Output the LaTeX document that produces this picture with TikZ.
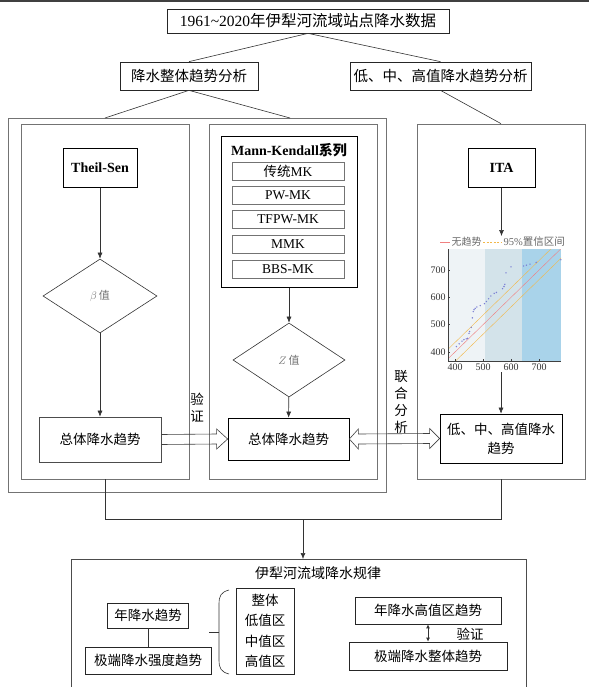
\documentclass[tikz,border=0pt]{standalone}
\usepackage{fontspec}
\setmainfont{Liberation Serif}
\newfontfamily\zh{Noto Sans CJK SC}
\usetikzlibrary{arrows.meta,shapes.geometric,calc}
\definecolor{bandA}{HTML}{EEF3F6}
\definecolor{bandB}{HTML}{D3E3EA}
\definecolor{bandC}{HTML}{A9D3EA}
\definecolor{dotc}{HTML}{7A7ED4}
\definecolor{legred}{HTML}{F08080}
\definecolor{legor}{HTML}{F2B84B}
\begin{document}
\begin{tikzpicture}[x=1pt,y=-1pt,
  box/.style={draw=black!85,line width=0.7pt,inner sep=0pt,align=center,font=\fontsize{13.5}{16}\selectfont},
  tbox/.style={box,font=\fontsize{14.5}{17}\selectfont},
  panel/.style={draw=black!55,line width=0.7pt,inner sep=0pt},
  subbox/.style={draw=black!55,line width=0.5pt,inner sep=0pt,minimum width=112pt,minimum height=18pt,font=\fontsize{13.5}{16}\selectfont},
  conn/.style={draw=black!80,line width=0.6pt},
  arr/.style={conn,-{Latex[length=6pt,width=5pt]}},
  hollow/.style={draw=black!75,line width=0.6pt,line join=miter},
  lbl/.style={inner sep=0pt,align=center,font=\zh\fontsize{13.5}{17}\selectfont},
  dia/.style={diamond,draw=black!80,line width=0.6pt,inner sep=0pt,minimum width=114pt,minimum height=74pt,font=\fontsize{11}{13}\selectfont,text=black!55},
  tick/.style={inner sep=1.5pt,font=\fontsize{10}{12}\selectfont,text=black!80},
]
\useasboundingbox (0,0) rectangle (589,687);
\draw[line width=2pt,black!75] (0,1) -- (589,1);

% top level
\node[tbox,minimum width=282pt,minimum height=24pt,font=\fontsize{15.5}{18}\selectfont] (top) at (308,21) {1961\textasciitilde2020{\zh 年伊犁河流域站点降水数据}};
\node[tbox,minimum width=138pt,minimum height=28pt] (l2) at (189,76) {\zh 降水整体趋势分析};
\node[tbox,minimum width=181pt,minimum height=28pt] (r2) at (440.5,76) {\zh 低、中、高值降水趋势分析};

% panels
\node[panel,minimum width=378pt,minimum height=374pt] (outer) at (197,305) {};
\node[panel,minimum width=168pt,minimum height=355pt] (tsp) at (105,301.5) {};
\node[panel,minimum width=168pt,minimum height=355pt] (mkp) at (293,301.5) {};
\node[panel,minimum width=168pt,minimum height=355pt] (itap) at (501,301.5) {};

\coordinate (oL) at (105,118);
\coordinate (oR) at (290,118);
\draw[conn] (top.south) -- (l2.north);
\draw[conn] (top.south) -- (r2.north);
\draw[conn] (oL) -- (l2.south) -- (oR);
\draw[conn] (r2.south) -- (itap.north);

% Theil-Sen column
\node[box,draw=black,line width=1pt,minimum width=74pt,minimum height=38pt,font=\bfseries\fontsize{14}{16}\selectfont] (ts) at (100,168) {Theil-Sen};
\node[dia] (beta) at (100,296) {$\beta$\,{\zh 值}};
\node[box,draw=black!70,minimum width=122pt,minimum height=45pt] (tl) at (100,439.5) {\zh 总体降水趋势};
\draw[arr] (ts) -- (beta);
\draw[arr] (beta) -- (tl);

% Mann-Kendall column
\node[box,draw=black,line width=1pt,minimum width=136pt,minimum height=150pt] (mk) at (289,212) {};
\node[lbl,font=\bfseries\fontsize{14}{16}\selectfont] (mkt) at (289,150) {Mann-Kendall{\zh 系列}};
\node[subbox] (mk1) at (288,171) {{\zh 传统}MK};
\node[subbox] (mk2) at (288,195.5) {PW-MK};
\node[subbox] (mk3) at (288,219.5) {TFPW-MK};
\node[subbox] (mk4) at (288,244) {MMK};
\node[subbox] (mk5) at (288,269) {BBS-MK};
\node[dia,minimum width=112pt] (zv) at (289,360) {$Z$\,{\zh 值}};
\node[box,draw=black,minimum width=121pt,minimum height=42pt] (tm) at (288.5,439) {\zh 总体降水趋势};
\draw[arr] (mk) -- (zv);
\draw[arr] (zv) -- (tm);

% ITA column
\node[box,draw=black,line width=1pt,minimum width=67pt,minimum height=38pt,font=\bfseries\fontsize{14}{16}\selectfont] (ita) at (501.5,168) {ITA};
\coordinate (legtop) at (501.5,236);
\draw[arr] (ita) -- (legtop);

\draw[legred,line width=0.6pt] (440,242) -- (450,242);
\node[tick,anchor=west,inner sep=0.5pt,text=black!60] (lg1) at (451,242) {\zh 无趋势};
\draw[legor,line width=0.6pt,dash pattern=on 2pt off 1.5pt] (483,242) -- (502,242);
\node[tick,anchor=west,inner sep=0.5pt,text=black!60,font=\fontsize{10.5}{12}\selectfont] (lg2) at (503,242) {95\%{\zh 置信区间}};

\begin{scope}[shift={(343,461.2)},x=0.28pt,y=0.273pt]
  \fill[bandA] (375,367) rectangle (507,777);
  \fill[bandB] (507,367) rectangle (639,777);
  \fill[bandC] (639,367) rectangle (779,777);
  \begin{scope}
    \clip (375,367) rectangle (779,777);
    \draw[legred,line width=0.4pt] (360,360) -- (800,800);
    \draw[legor,line width=0.4pt] (330,365) -- (800,835);
    \draw[legor,line width=0.4pt] (365,330) -- (835,800);
  \end{scope}
  \foreach \px/\py in {405/420,415/430,425/440,432/445,440/448,445/450,450/468,452/475,458/490,462/525,465/548,468/555,472/560,478/565,490/570,505/577,512/585,520/595,528/605,540/615,548/618,570/632,575/640,578/648,582/690,600/712,645/715,655/718,668/722,690/728,778/738}
    \fill[dotc] (\px,\py) circle[radius=0.8pt];
  \draw[black!75,line width=0.6pt] (375,777) -- (375,367) -- (779,367);
  \foreach \v in {400,500,600,700} {
    \draw[black!75,line width=0.5pt] (375,\v) -- ++(7,0);
    \draw[black!75,line width=0.5pt] (\v,367) -- ++(0,7);
    \node[tick,anchor=east] (yl\v) at (373,\v) {\v};
    \node[tick,anchor=north] (xl\v) at (\v,362) {\v};
  }
\end{scope}

\node[box,draw=black,minimum width=122pt,minimum height=49pt,font=\zh\fontsize{13.5}{19}\selectfont] (itb) at (501,438.5) {低、中、高值降水\\趋势};
\coordinate (pbot) at (501,372);
\draw[arr] (pbot) -- (itb);

% hollow arrows
\draw[hollow] ([yshift=5pt]tl.east) -- ([xshift=-11pt,yshift=5pt]tm.west) -- ([xshift=-11pt,yshift=10pt]tm.west) -- (tm.west) -- ([xshift=-11pt,yshift=-10pt]tm.west) -- ([xshift=-11pt,yshift=-5pt]tm.west) -- ([yshift=-5pt]tl.east);
\draw[hollow] ([xshift=9pt,yshift=5pt]tm.east) -- ([xshift=-10pt,yshift=5pt]itb.west) -- ([xshift=-10pt,yshift=10pt]itb.west) -- (itb.west) -- ([xshift=-10pt,yshift=-10pt]itb.west) -- ([xshift=-10pt,yshift=-5pt]itb.west) -- ([xshift=9pt,yshift=-5pt]tm.east) -- ([xshift=9pt,yshift=-10pt]tm.east) -- (tm.east) -- ([xshift=9pt,yshift=10pt]tm.east) -- cycle;
\node[lbl] (yz) at (197,408) {验\\证};
\node[lbl,font=\zh\fontsize{13.5}{16.7}\selectfont] (lh) at (401,402) {联\\合\\分\\析};

% bottom connectors
\coordinate (b1) at (105,519);
\coordinate (b2) at (501,519);
\coordinate (b3) at (303,519);
\draw[conn] (tsp.south) -- (b1) -- (b2) -- (itap.south);
\node[panel,draw=black!70,minimum width=455pt,minimum height=150pt,anchor=north] (res) at (298.5,559) {};
\draw[arr] (b3) -- (b3 |- res.north);

\node[lbl,font=\zh\fontsize{14}{16}\selectfont] (rt) at (318,573) {伊犁河流域降水规律};
\node[box,minimum width=81pt,minimum height=25pt] (ny) at (148,615.5) {\zh 年降水趋势};
\node[box,minimum width=126pt,minimum height=27pt] (jd) at (148,660.5) {\zh 极端降水强度趋势};
\draw[conn] (ny) -- (jd);
\draw[conn] (229,590) .. controls (221,592) and (219,596) .. (219,604) -- (219,660) .. controls (219,668) and (221,672) .. (229,674);
\draw[conn] (209,632) -- (219,632);
\node[box,minimum width=58pt,minimum height=86pt,font=\zh\fontsize{13.5}{20.3}\selectfont] (zq) at (265,631) {整体\\低值区\\中值区\\高值区};
\node[box,minimum width=146pt,minimum height=27pt] (gz) at (428,610.5) {\zh 年降水高值区趋势};
\node[box,minimum width=158pt,minimum height=28pt] (jz) at (428,656) {\zh 极端降水整体趋势};
\draw[conn,line width=1pt,{Latex[length=4pt,width=4pt]}-{Latex[length=4pt,width=4pt]}] (gz.south) -- (gz.south |- jz.north);
\node[lbl] (yz2) at (470,634) {验证};
\end{tikzpicture}
\end{document}
